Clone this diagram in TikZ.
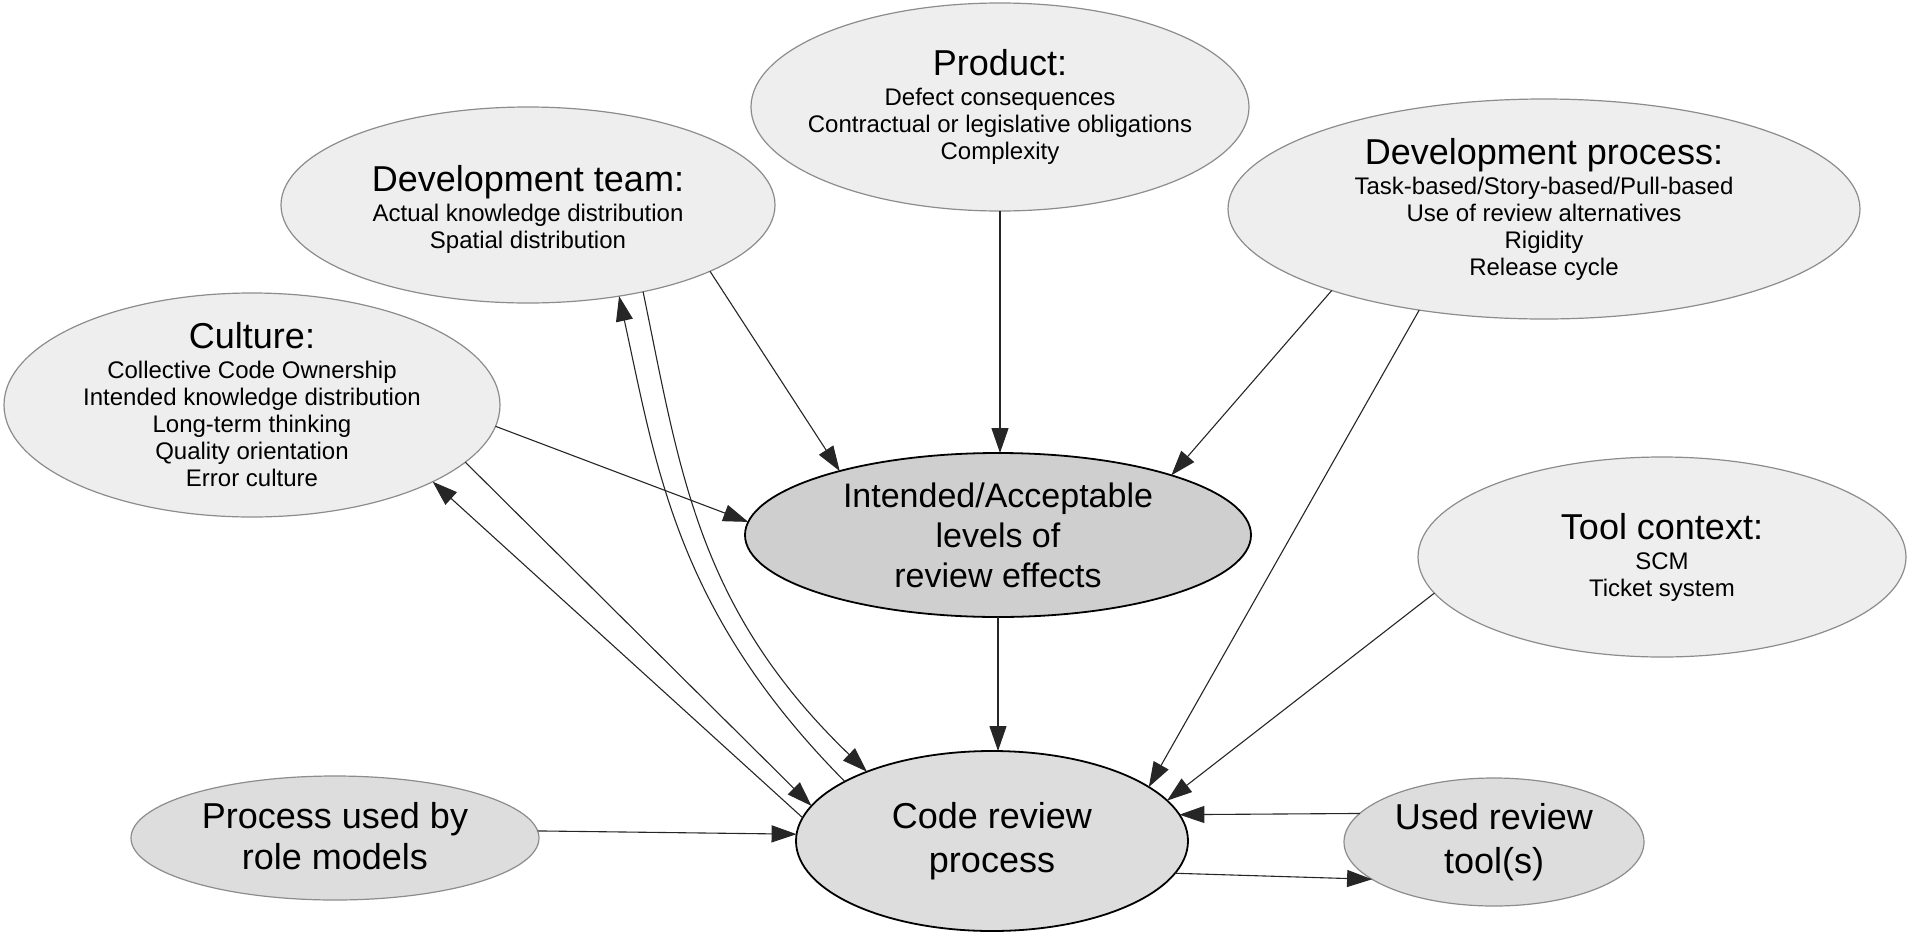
\documentclass[tikz,border=0pt]{standalone}
\usepackage{fontspec}
\setmainfont{Liberation Sans}
\usetikzlibrary{shapes.geometric,arrows.meta}
\definecolor{lightfill}{HTML}{EEEEEE}
\definecolor{midfill}{HTML}{DDDDDD}
\definecolor{darkfill}{HTML}{CFCFCF}
\definecolor{rim}{HTML}{8C8C8C}
\newcommand{\bigline}[1]{{\fontsize{36}{40}\selectfont #1}}
\begin{document}
\begin{tikzpicture}[x=1pt,y=-1pt,
  bub/.style={ellipse, inner sep=0pt, outer sep=0pt},
  light/.style={bub, draw=rim, line width=1.2pt, fill=lightfill},
  mid/.style={bub, draw=rim, line width=1.2pt, fill=midfill},
  strong/.style={bub, draw=black, line width=1.8pt},
  smalltext/.style={align=center, font=\fontsize{24}{27}\selectfont, inner sep=0pt},
  bigtext/.style={align=center, font=\fontsize{36}{44}\selectfont, inner sep=0pt},
  conn/.style={line width=1.1pt, draw=black!85, -{Triangle[length=25pt,width=17pt]}}
]
\useasboundingbox (0,0) rectangle (1907,932);

\node[light, minimum width=498pt, minimum height=208pt,
  label={[smalltext]center:{\bigline{Product:}\\[3pt]Defect consequences\\Contractual or legislative obligations\\Complexity}}]
  (product) at (1000,107) {};
\node[light, minimum width=494pt, minimum height=196pt,
  label={[smalltext, yshift=-4pt]center:{\bigline{Development team:}\\[3pt]Actual knowledge distribution\\Spatial distribution}}]
  (devteam) at (528,205) {};
\node[light, minimum width=632pt, minimum height=220pt,
  label={[smalltext]center:{\bigline{Development process:}\\[3pt]Task-based/Story-based/Pull-based\\Use of review alternatives\\Rigidity\\Release cycle}}]
  (devproc) at (1544,209) {};
\node[light, minimum width=496pt, minimum height=224pt,
  label={[smalltext]center:{\bigline{Culture:}\\[3pt]Collective Code Ownership\\Intended knowledge distribution\\Long-term thinking\\Quality orientation\\Error culture}}]
  (culture) at (252,405) {};
\node[strong, fill=darkfill, minimum width=506pt, minimum height=164pt,
  label={[bigtext, font=\fontsize{34}{40}\selectfont]center:{Intended/Acceptable\\levels of\\review effects}}]
  (intended) at (998,535) {};
\node[light, minimum width=488pt, minimum height=200pt,
  label={[smalltext]center:{\bigline{Tool context:}\\[3pt]SCM\\Ticket system}}]
  (tool) at (1662,557) {};
\node[mid, minimum width=408pt, minimum height=124pt,
  label={[bigtext, font=\fontsize{36}{41}\selectfont, yshift=2pt]center:{Process used by\\role models}}]
  (role) at (335,838) {};
\node[strong, fill=midfill, minimum width=392pt, minimum height=180pt,
  label={[bigtext]center:{Code review\\process}}]
  (code) at (992,841) {};
\node[mid, minimum width=300pt, minimum height=128pt,
  label={[bigtext]center:{Used review\\tool(s)}}]
  (used) at (1494,842) {};

\draw[conn] (product.south) -- (product.south |- intended.north);
\draw[conn] (intended.south) -- (intended.south |- code.north);
\draw[conn] (devteam.-20) -- (intended.158);
\draw[conn] (devproc.201) -- (intended.19);
\draw[conn] (culture.-5.4) -- (intended.177);
\draw[conn] (devproc.219.6) -- (code.19);
\draw[conn] (tool.189) -- (code.13);
\draw[conn] (used.168) -- (code.8.6);
\draw[conn] (code.-10) -- (used.197);
\draw[conn] (role.2) -- (code.178);
\draw[conn] (culture.-15) -- (code.169);
\draw[conn] (code.173) -- (culture.-23);
\draw[conn] (devteam.-37.4) .. controls (680,470) and (697,608) .. (code.151.4);
\draw[conn] (code.158.5) .. controls (677,612) and (657,470) .. (devteam.-45);
\end{tikzpicture}
\end{document}
